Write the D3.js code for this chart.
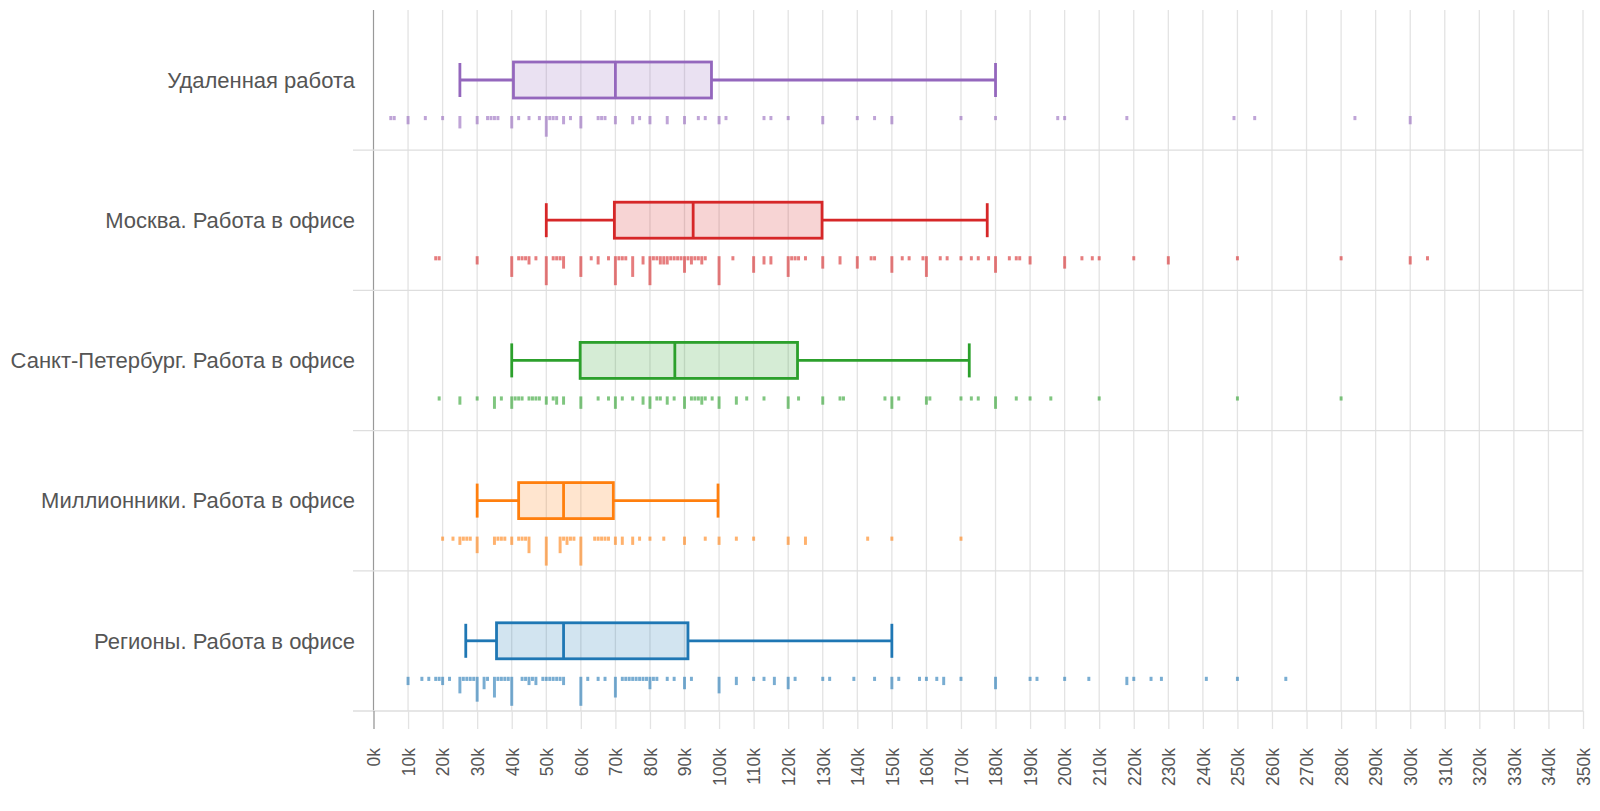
<!DOCTYPE html>
<html><head><meta charset="utf-8">
<script src="https://cdn.jsdelivr.net/npm/d3@7"></script>
<style>body{margin:0;background:#fff;overflow:hidden} text{font-family:"Liberation Sans",Arial,Helvetica,sans-serif}</style>
</head><body><svg id="c" width="1600" height="811"></svg>
<script>
const categories = ["Удаленная работа","Москва. Работа в офисе","Санкт-Петербург. Работа в офисе","Миллионники. Работа в офисе","Регионы. Работа в офисе"];
const colors = ["#9467bd","#d62728","#2ca02c","#ff7f0e","#1f77b4"];
// whisker low, Q1, median, Q3, whisker high (thousands)
const boxRemote = [25,40.5,70,97.8,180];
const boxMoscow = [50,69.7,92.5,129.8,177.6];
const boxSpb = [40,59.8,87.2,122.7,172.4];
const boxMillion = [30,42,55,69.4,99.7];
const boxRegions = [26.7,35.6,55,91,150];
// rug: [salary in thousands, count]
const rugRemote = [[5,1],[6,1],[10,2],[15,1],[20,1],[25,3],[30,2],[33,1],[34,1],[35,1],[36,1],[40,3],[42,1],[45,1],[48,1],[50,5],[51,1],[52,1],[53,1],[55,2],[57,1],[60,3],[65,1],[66,1],[67,1],[70,2],[75,2],[77,1],[80,2],[85,2],[90,2],[94,1],[96,1],[100,2],[102,1],[113,1],[115,1],[120,1],[130,2],[140,1],[145,1],[150,2],[170,1],[180,1],[198,1],[200,1],[218,1],[249,1],[255,1],[284,1],[300,2]];
const rugMoscow = [[18,1],[19,1],[30,2],[40,5],[42,1],[43,1],[44,1],[45,2],[47,1],[50,7],[52,1],[53,1],[54,1],[55,3],[60,5],[63,1],[65,2],[68,1],[70,7],[71,1],[72,1],[73,1],[75,5],[78,2],[80,7],[81,1],[82,1],[83,2],[84,2],[85,2],[86,1],[87,1],[88,1],[89,1],[90,4],[91,1],[92,2],[93,1],[94,1],[95,2],[96,1],[100,7],[104,1],[110,4],[113,2],[115,2],[120,5],[121,1],[122,1],[123,1],[125,1],[130,3],[135,2],[140,3],[144,1],[145,1],[150,4],[153,1],[155,1],[159,1],[160,5],[164,1],[166,1],[170,1],[173,1],[175,1],[178,1],[180,4],[184,1],[186,1],[187,1],[190,2],[200,3],[205,1],[208,1],[210,1],[220,1],[230,2],[250,1],[280,1],[300,2],[305,1]];
const rugSpb = [[19,1],[25,2],[30,1],[35,3],[37,1],[40,3],[41,1],[42,1],[43,1],[45,1],[46,1],[47,1],[48,1],[50,2],[52,1],[53,2],[55,2],[60,3],[65,1],[68,1],[70,3],[72,1],[75,1],[78,2],[80,3],[82,1],[83,1],[85,2],[87,1],[90,3],[92,1],[93,1],[94,1],[95,2],[96,1],[98,1],[100,3],[105,2],[108,1],[113,1],[120,3],[123,1],[130,2],[135,1],[136,1],[148,1],[150,3],[152,1],[160,2],[161,1],[170,1],[173,1],[175,1],[180,3],[186,1],[190,1],[196,1],[210,1],[250,1],[280,1]];
const rugMillion = [[20,1],[23,1],[25,2],[26,1],[27,1],[28,1],[30,4],[35,2],[36,1],[37,1],[38,1],[40,2],[42,1],[43,1],[44,1],[45,4],[50,7],[54,4],[55,1],[56,2],[57,1],[58,1],[60,7],[64,1],[65,1],[66,1],[67,1],[68,1],[70,2],[72,2],[75,2],[77,1],[80,1],[84,1],[90,2],[96,1],[100,2],[105,1],[110,1],[120,2],[125,2],[143,1],[150,1],[170,1]];
const rugRegions = [[10,2],[14,1],[16,1],[18,1],[19,1],[20,2],[22,1],[25,4],[26,1],[27,1],[28,1],[29,1],[30,6],[32,3],[33,1],[35,5],[36,1],[37,1],[38,1],[39,1],[40,7],[43,1],[44,1],[45,2],[46,1],[47,2],[49,1],[50,1],[51,1],[52,1],[53,1],[54,1],[55,2],[60,7],[62,1],[65,1],[67,1],[70,5],[72,1],[73,1],[74,1],[75,1],[76,1],[77,1],[78,1],[79,1],[80,3],[81,1],[82,1],[85,1],[87,1],[90,3],[92,1],[100,4],[105,2],[110,1],[113,1],[116,2],[120,3],[122,1],[130,1],[132,1],[139,1],[145,1],[150,3],[152,1],[158,1],[160,1],[163,1],[165,2],[170,1],[180,3],[190,1],[192,1],[200,1],[207,1],[218,2],[220,1],[225,1],[228,1],[241,1],[250,1],[264,1]];
const tickValues = d3.range(0, 351, 10);

const boxes = [boxRemote, boxMoscow, boxSpb, boxMillion, boxRegions];
const rugs = [rugRemote, rugMoscow, rugSpb, rugMillion, rugRegions];

const svg = d3.select("#c");
const plotTop = 10, plotBottom = 711, plotLeft = 373.5, plotRight = 1583;
const x = d3.scaleLinear().domain([0, 350]).range([plotLeft, plotRight]);
const y = d3.scaleBand().domain(categories).range([plotTop, plotBottom]);
const bh = y.bandwidth();
const rugH = d3.scaleLinear().domain([0, 7]).range([0, 29]);

// vertical grid
svg.append("g").selectAll("line").data(tickValues).join("line")
  .attr("x1", d => x(d)).attr("x2", d => x(d))
  .attr("y1", plotTop).attr("y2", plotBottom)
  .attr("stroke", d => d === 0 ? "#999" : "#e3e3e3").attr("stroke-width", d => d === 0 ? 1.2 : 1.3);

// horizontal separators
svg.append("g").selectAll("line").data(categories).join("line")
  .attr("x1", 353).attr("x2", plotRight)
  .attr("y1", d => y(d) + bh).attr("y2", d => y(d) + bh)
  .attr("stroke", "#dedede").attr("stroke-width", 1.3);

// x axis
const ax = svg.append("g").attr("transform", `translate(0,${plotBottom})`)
  .call(d3.axisBottom(x).tickValues(tickValues).tickSize(18).tickFormat(d => d + "k"));
ax.select(".domain").remove();
ax.selectAll(".tick line").attr("stroke", d => d === 0 ? "#999" : "#e3e3e3").attr("stroke-width", 1.3);
ax.selectAll(".tick text")
  .attr("transform", "rotate(-90)")
  .attr("text-anchor", "end")
  .attr("x", -37).attr("y", 0).attr("dy", "0.36em")
  .attr("font-size", 17.5).attr("fill", "#555")
  .style("font-family", "'Liberation Sans', Arial, sans-serif");

// row labels
svg.append("g").selectAll("text").data(categories).join("text")
  .attr("x", 355).attr("y", d => y(d) + 70)
  .attr("dy", "0.35em").attr("text-anchor", "end")
  .attr("font-size", 22).attr("fill", "#555")
  .text(d => d);

// rugs
categories.forEach((c, i) => {
  const g = svg.append("g");
  const w = x(1) - x(0) - 0.5;
  g.selectAll("rect").data(rugs[i]).join("rect")
    .attr("x", d => x(d[0]) - w / 2).attr("width", w)
    .attr("y", y(c) + 106).attr("height", d => Math.max(3.5, rugH(d[1])))
    .attr("fill", colors[i]).attr("fill-opacity", 0.6);
});

// boxes
categories.forEach((c, i) => {
  const [lo, q1, med, q3, hi] = boxes[i];
  const cy = y(c) + 70, h = 36;
  const g = svg.append("g").attr("stroke", colors[i]).attr("stroke-width", 2.8);
  g.append("line").attr("x1", x(lo)).attr("x2", x(q1)).attr("y1", cy).attr("y2", cy);
  g.append("line").attr("x1", x(q3)).attr("x2", x(hi)).attr("y1", cy).attr("y2", cy);
  g.append("line").attr("x1", x(lo)).attr("x2", x(lo)).attr("y1", cy - h / 2 + 1).attr("y2", cy + h / 2 - 1);
  g.append("line").attr("x1", x(hi)).attr("x2", x(hi)).attr("y1", cy - h / 2 + 1).attr("y2", cy + h / 2 - 1);
  g.append("rect").attr("x", x(q1)).attr("width", x(q3) - x(q1))
    .attr("y", cy - h / 2).attr("height", h)
    .attr("fill", colors[i]).attr("fill-opacity", 0.2);
  g.append("line").attr("x1", x(med)).attr("x2", x(med)).attr("y1", cy - h / 2).attr("y2", cy + h / 2);
});
</script></body></html>
